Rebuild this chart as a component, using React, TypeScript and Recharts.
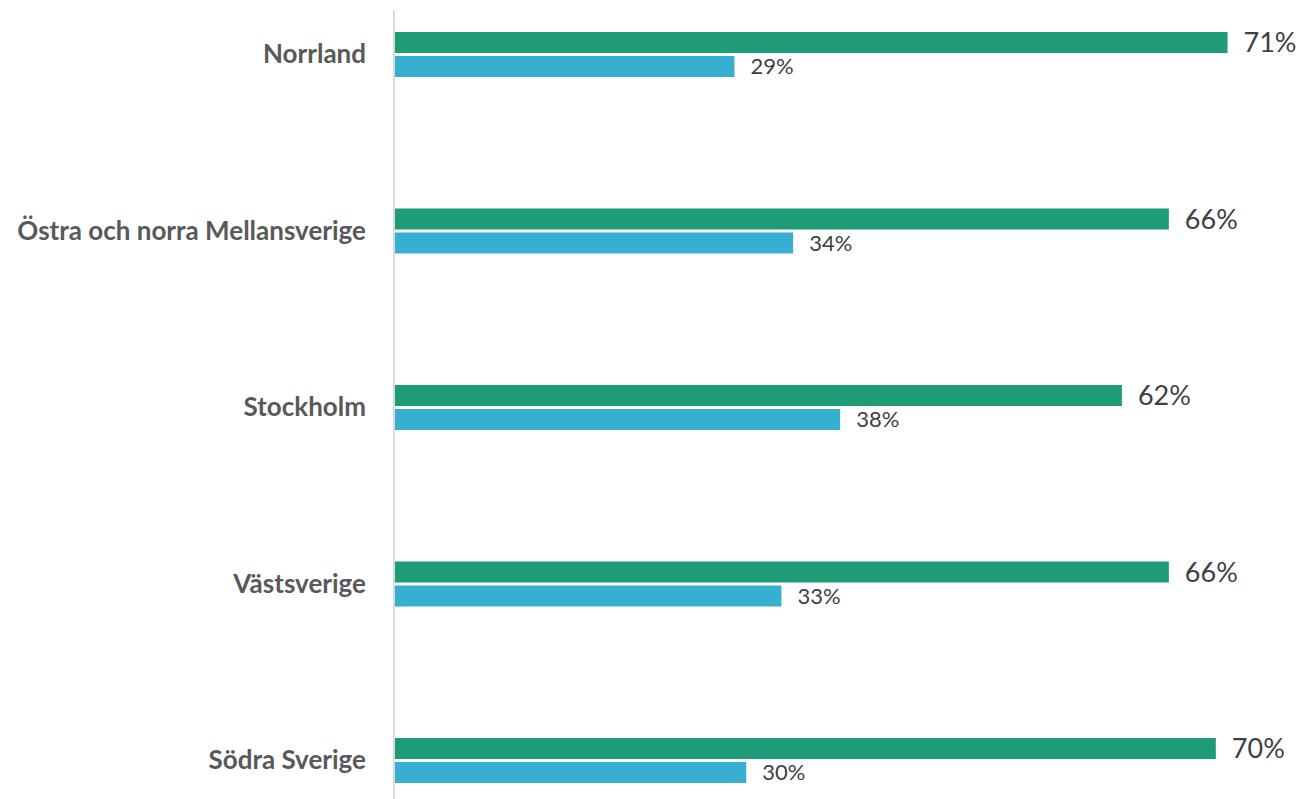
import { Bar, BarChart, LabelList, XAxis, YAxis } from "recharts"

const regions = [
  "Norrland",
  "Östra och norra Mellansverige",
  "Stockholm",
  "Västsverige",
  "Södra Sverige",
]
const seriesA = [71, 66, 62, 66, 70]
const seriesB = [29, 34, 38, 33, 30]

const data = regions.map((region, i) => ({
  region,
  a: seriesA[i],
  b: seriesB[i],
}))

const font = "Lato, 'Open Sans', sans-serif"

export default function App() {
  return (
    <div
      style={{
        position: "absolute",
        left: 0,
        top: 10,
        width: 1304,
        height: 789,
        overflow: "hidden",
        background: "#fff",
      }}
    >
      <div style={{ position: "relative", top: -43.75 }}>
        <BarChart
          width={1304}
          height={882.5}
          data={data}
          layout="vertical"
          barSize={21}
          barGap={3}
          margin={{ top: 0, right: 6, bottom: 0, left: 0 }}
        >
          <XAxis type="number" domain={[0, 77]} hide />
          <YAxis
            type="category"
            dataKey="region"
            width={394}
            axisLine={{ stroke: "#d9d9d9", strokeWidth: 2 }}
            tickLine={false}
            tickSize={0}
            tickMargin={28}
            tick={{ fill: "#595959", fontSize: 26, fontWeight: 700, fontFamily: font }}
          />
          <Bar dataKey="a" fill="#1e9b77" isAnimationActive={false}>
            <LabelList
              dataKey="a"
              position="right"
              offset={16}
              formatter={(v: number) => `${v}%`}
              style={{ fill: "#404040", fontSize: 27, fontFamily: font }}
            />
          </Bar>
          <Bar dataKey="b" fill="#36afd0" isAnimationActive={false}>
            <LabelList
              dataKey="b"
              position="right"
              offset={16}
              formatter={(v: number) => `${v}%`}
              style={{ fill: "#404040", fontSize: 22, fontFamily: font }}
            />
          </Bar>
        </BarChart>
      </div>
    </div>
  )
}
